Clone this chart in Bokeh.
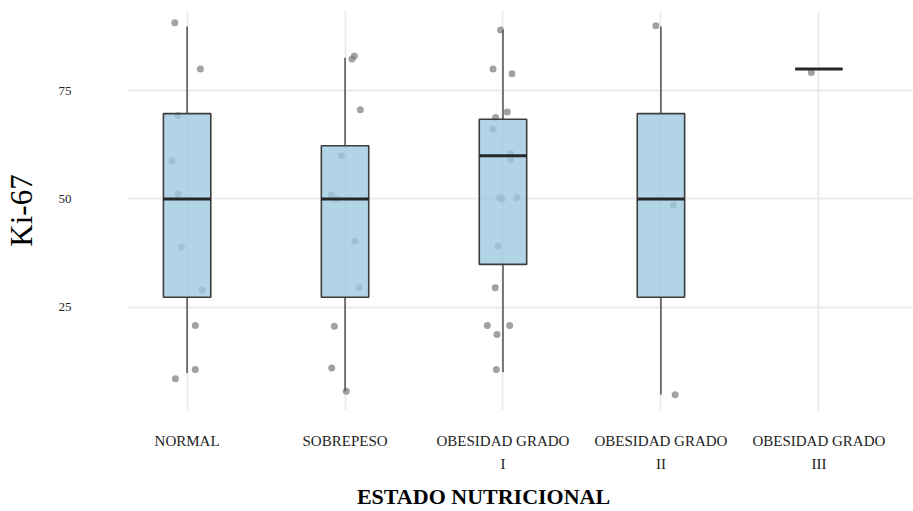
from bokeh.plotting import figure
from bokeh.models import Range1d, FixedTicker, LinearAxis, ColumnDataSource
from bokeh.embed import file_html
from bokeh.resources import INLINE

# --- data ---
categories = ["NORMAL", "SOBREPESO", "OBESIDAD GRADO\nI", "OBESIDAD GRADO\nII", "OBESIDAD GRADO\nIII"]
cat_pos = [1, 2, 3, 4, 5]
q1 = [27.3, 27.3, 34.9, 27.3, 80.0]
median = [50.0, 50.0, 60.0, 50.0, 80.0]
q3 = [69.7, 62.3, 68.4, 69.7, 80.0]
lower = [9.8, 5.6, 10.0, 4.8, 80.0]
upper = [89.8, 82.6, 89.0, 89.8, 80.0]

# jittered observations: group index, horizontal jitter, value
pt_group = [1]*10 + [2]*11 + [3]*17 + [4]*3 + [5]*1
pt_jitter = [-0.078, 0.084, -0.057, -0.095, -0.057, -0.036, 0.097, 0.052, 0.052, -0.074,
             0.044, 0.059, 0.097, -0.021, -0.088, -0.057, 0.063, 0.090, -0.068, -0.084, 0.008,
             -0.015, -0.063, 0.057, 0.027, -0.047, -0.063, 0.048, 0.048, -0.021, -0.006, 0.088,
             -0.032, -0.049, -0.099, 0.042, -0.038, -0.042,
             -0.032, 0.080, 0.090,
             -0.048]
pt_value = [90.7, 80.0, 69.2, 58.8, 51.1, 38.9, 29.0, 20.8, 10.6, 8.5,
            82.3, 83.0, 70.6, 60.0, 51.0, 50.0, 40.3, 29.6, 20.6, 11.0, 5.6,
            89.0, 80.0, 78.9, 70.1, 68.8, 66.1, 60.5, 59.0, 50.3, 50.0, 50.3,
            39.1, 29.5, 20.8, 20.8, 18.7, 10.6,
            90.0, 48.6, 4.8,
            79.2]
y_ticks = [25, 50, 75]
x_title = "ESTADO NUTRICIONAL"

box_width = 0.3
SERIF = "Liberation Serif"

X0, X1 = 0.629, 5.599
p = figure(width=913, height=511, output_backend="svg", toolbar_location=None,
           x_range=Range1d(X0, X1), y_range=Range1d(1.16, 93.52),
           min_border_left=127, min_border_right=0, min_border_top=10, min_border_bottom=98)
p.outline_line_color = None
p.background_fill_color = "white"

# grids
p.xgrid.ticker = FixedTicker(ticks=cat_pos)
p.ygrid.ticker = FixedTicker(ticks=y_ticks)
for g in (p.xgrid, p.ygrid):
    g.grid_line_color = "#ebebeb"
    g.grid_line_width = 2

# axes
p.xaxis.ticker = FixedTicker(ticks=cat_pos)
p.xaxis.major_label_overrides = {pos: lab for pos, lab in zip(cat_pos, categories)}
p.yaxis.ticker = FixedTicker(ticks=y_ticks)
for ax in (p.xaxis, p.yaxis):
    ax.axis_line_color = None
    ax.major_tick_line_color = None
    ax.minor_tick_line_color = None
    ax.major_tick_in = 0
    ax.major_tick_out = 0
    ax.major_label_text_font = SERIF
    ax.major_label_text_color = "#222222"
p.xaxis.major_label_text_font_size = "15px"
p.xaxis.major_label_text_line_height = 1.45
p.xaxis.major_label_standoff = 22
p.yaxis.major_label_text_font_size = "13px"
p.yaxis.major_label_standoff = 57

p.yaxis.axis_label = "Ki-67"
p.yaxis.axis_label_text_font = SERIF
p.yaxis.axis_label_text_font_size = "31px"
p.yaxis.axis_label_text_font_style = "normal"
p.yaxis.axis_label_text_color = "black"
p.yaxis.axis_label_standoff = 17

# x-axis title drawn as the single label of an extra, invisible axis below,
# centred somewhat left of the plot centre as in the reference
title_pos = X0 + (482.5 - 127) / 786 * (X1 - X0)
title_axis = LinearAxis(ticker=FixedTicker(ticks=[title_pos]),
                        major_label_overrides={title_pos: x_title},
                        axis_line_color=None, major_tick_line_color=None,
                        minor_tick_line_color=None, major_tick_in=0, major_tick_out=0,
                        major_label_standoff=9, major_label_text_font=SERIF,
                        major_label_text_font_size="22px",
                        major_label_text_font_style="bold",
                        major_label_text_color="black")
p.add_layout(title_axis, "below")

# points (drawn under boxes)
pts = ColumnDataSource(dict(x=[g + j for g, j in zip(pt_group, pt_jitter)], y=pt_value))
p.scatter("x", "y", source=pts, size=7, color="#7a7a7a", alpha=0.7, line_color=None)

# boxes
src = ColumnDataSource(dict(x=cat_pos, q1=q1, med=median, q3=q3, lo=lower, hi=upper,
                            x0=[c - box_width / 2 for c in cat_pos],
                            x1=[c + box_width / 2 for c in cat_pos]))
p.segment("x", "q3", "x", "hi", source=src, line_color="#5a5a5a", line_width=1.6)
p.segment("x", "q1", "x", "lo", source=src, line_color="#5a5a5a", line_width=1.6)
p.vbar(x="x", width=box_width, bottom="q1", top="q3", source=src,
       fill_color="#9ecae1", fill_alpha=0.8, line_color="#3c3c3c", line_width=1.6)
p.segment("x0", "med", "x1", "med", source=src, line_color="#262626", line_width=3)

open("out.html", "w").write(file_html(p, INLINE))
